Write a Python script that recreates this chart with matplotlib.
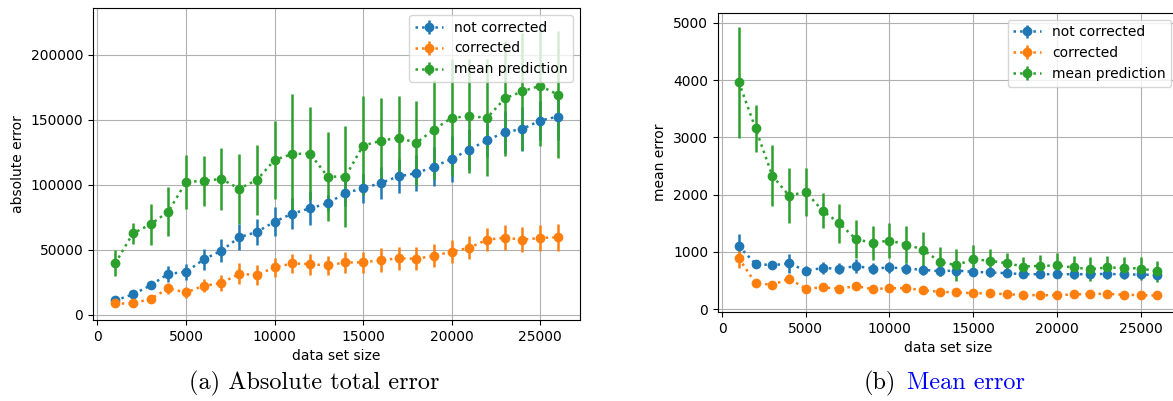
import matplotlib
matplotlib.use("Agg")
import matplotlib.pyplot as plt
import numpy as np

sizes = np.arange(1000, 27000, 1000)

# (a) absolute total error
abs_not_corr = [11000, 15700, 22600, 31600, 32900, 42600, 49300, 59600, 63700, 71600,
                77800, 81900, 85800, 93700, 97300, 101400, 106500, 108900, 114000, 119900,
                127100, 134300, 140400, 143000, 149400, 152500]
abs_not_corr_err = [3000, 3000, 3000, 6000, 6000, 8000, 9000, 10000, 10000, 11000,
                    12000, 13000, 6000, 10000, 11000, 12000, 13000, 14000, 15000, 18000,
                    16000, 13000, 16000, 17000, 15000, 18000]
abs_corr = [8700, 8700, 12300, 20300, 17200, 22300, 24400, 31600, 30600, 36500,
            39500, 39000, 38000, 40300, 40300, 42100, 43400, 43100, 45400, 48500,
            51600, 57800, 59300, 57800, 59100, 59600]
abs_corr_err = [3000, 3000, 3000, 4000, 4000, 5000, 6000, 8000, 8000, 7500,
                7500, 8000, 7500, 8000, 8000, 9000, 9000, 9000, 9000, 9000,
                9000, 9000, 9500, 9500, 10000, 10500]
abs_mean = [39500, 62600, 69600, 79300, 102200, 103000, 104500, 97000, 103700, 119100,
            123700, 124000, 106300, 106300, 130200, 133800, 136300, 132200, 142500, 151500,
            152800, 151500, 166400, 172000, 176100, 169400]
abs_mean_err = [10000, 8000, 16000, 19000, 21000, 19000, 24000, 27000, 27000, 30000,
                46000, 36000, 34000, 39000, 38000, 33000, 32000, 32000, 38000, 45000,
                44000, 45000, 44000, 45000, 46000, 49000]

# (b) mean error
mean_not_corr = [1099, 791, 767, 797, 674, 715, 709, 750, 709, 727,
                 709, 686, 663, 674, 651, 640, 628, 610, 610, 610,
                 610, 610, 616, 605, 605, 593]
mean_not_corr_err = [210, 60, 70, 160, 80, 100, 100, 120, 100, 100,
                     90, 90, 80, 90, 70, 80, 70, 60, 60, 60,
                     60, 60, 60, 60, 60, 60]
mean_corr = [890, 453, 424, 529, 360, 378, 360, 401, 349, 366,
             366, 331, 302, 291, 279, 273, 262, 244, 244, 244,
             256, 267, 267, 250, 244, 238]
mean_corr_err = [180, 60, 40, 80, 50, 50, 50, 60, 50, 40,
                 40, 40, 30, 30, 30, 30, 30, 30, 30, 30,
                 30, 30, 30, 30, 30, 30]
mean_mean = [3965, 3157, 2331, 1983, 2047, 1721, 1500, 1221, 1157, 1198,
             1128, 1041, 826, 767, 872, 843, 802, 744, 756, 762,
             727, 698, 727, 721, 709, 663]
mean_mean_err = [970, 410, 530, 485, 420, 310, 340, 335, 300, 300,
                 320, 300, 255, 280, 250, 205, 185, 165, 185, 225,
                 205, 205, 195, 190, 195, 185]

labels = ["not corrected", "corrected", "mean prediction"]


def panel(ax, series, ylabel):
    for (y, e), lab in zip(series, labels):
        ax.errorbar(sizes, y, yerr=e, fmt="o:", linewidth=1.8, elinewidth=1.8,
                    markersize=6, label=lab)
    ax.set_xlabel("data set size", fontsize=10)
    ax.set_ylabel(ylabel, fontsize=10)
    ax.tick_params(labelsize=10)
    ax.grid(True)
    ax.legend(loc="upper right", fontsize=10)


fig = plt.figure(figsize=(11.73, 4.01), dpi=100)
ax1 = fig.add_axes([0.0793, 0.202, 0.4152, 0.778])
ax2 = fig.add_axes([0.612, 0.222, 0.3925, 0.746])

panel(ax1, [(abs_not_corr, abs_not_corr_err), (abs_corr, abs_corr_err),
            (abs_mean, abs_mean_err)], "absolute error")
ax1.set_ylim(-4000, 236000)

panel(ax2, [(mean_not_corr, mean_not_corr_err), (mean_corr, mean_corr_err),
            (mean_mean, mean_mean_err)], "mean error")
ax2.set_ylim(-50, 5175)

# captions
fig.text(0.268, 0.045, "(a) Absolute total error", family="cmr10", fontsize=17.5,
         ha="center", va="center")
fig.text(0.7635, 0.045, "(b)", family="cmr10", fontsize=17.5, ha="right", va="center")
fig.text(0.773, 0.045, "Mean error", family="cmr10", fontsize=17.5, color="blue",
         ha="left", va="center")

fig.savefig("out.png", dpi=100)
